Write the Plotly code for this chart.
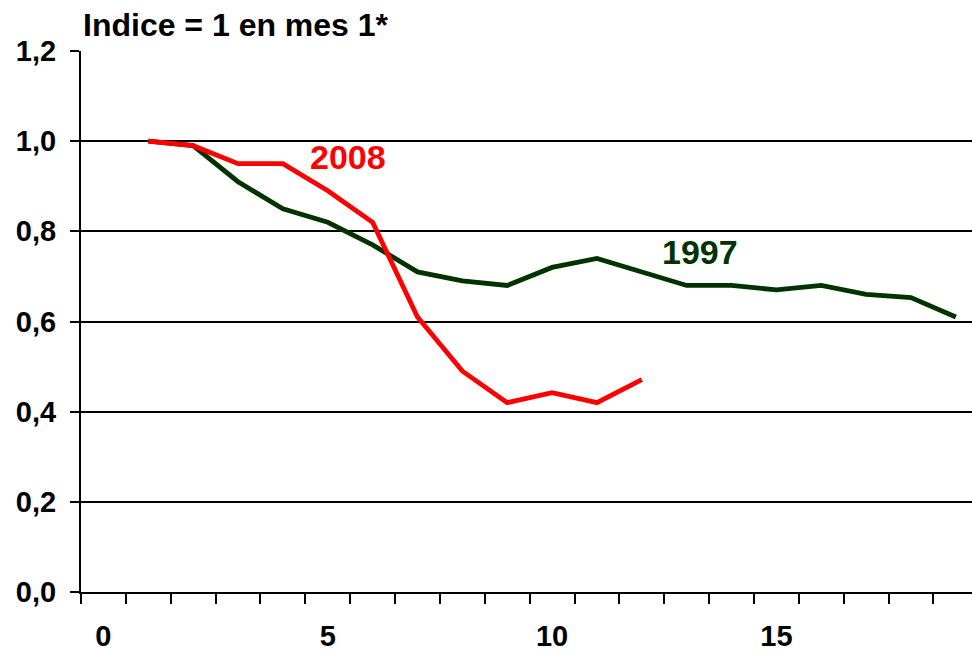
import plotly.graph_objects as go

months = list(range(1, 20))
serie_1997 = [1.00, 0.99, 0.91, 0.85, 0.82, 0.77, 0.71, 0.69, 0.68, 0.72,
              0.74, 0.71, 0.68, 0.68, 0.67, 0.68, 0.66, 0.653, 0.61]
months_2008 = list(range(1, 13))
serie_2008 = [1.00, 0.99, 0.95, 0.95, 0.89, 0.82, 0.61, 0.49, 0.42, 0.442,
              0.42, 0.471]
y_ticks = [0.0, 0.2, 0.4, 0.6, 0.8, 1.0, 1.2]
y_labels = ["0,0", "0,2", "0,4", "0,6", "0,8", "1,0", "1,2"]
x_ticks = [0, 5, 10, 15]
x_labels = ["0", "5", "10", "15"]

GREEN = "#003300"
RED = "#FF0000"
FONT = "Liberation Sans, Arial, sans-serif"

fig = go.Figure()
fig.add_trace(go.Scatter(x=months, y=serie_1997, mode="lines",
                         line=dict(color=GREEN, width=4.8), name="1997"))
fig.add_trace(go.Scatter(x=months_2008, y=serie_2008, mode="lines",
                         line=dict(color=RED, width=4.8), name="2008"))

fig.add_annotation(x=5.46, y=0.964, text="<b>2008</b>", showarrow=False,
                   font=dict(family=FONT, size=34, color=RED))
fig.add_annotation(x=13.29, y=0.754, text="<b>1997</b>", showarrow=False,
                   font=dict(family=FONT, size=34, color=GREEN))

fig.update_layout(
    width=972, height=655,
    margin=dict(l=81, r=0, t=51, b=63, autoexpand=False),
    paper_bgcolor="white", plot_bgcolor="white",
    showlegend=False,
    font=dict(family=FONT, color="black"),
    title=dict(text="<b>Indice = 1 en mes 1*</b>", x=83 / 972, xref="container",
               xanchor="left", y=1 - 25 / 655, yref="container",
               yanchor="middle", font=dict(family=FONT, size=32, color="black")),
)

fig.update_xaxes(
    range=[-0.5, 19.36], automargin=False,
    tickmode="array", tickvals=x_ticks,
    ticktext=["<b>" + t + "</b>" for t in x_labels],
    ticks="outside", ticklen=0, tickcolor="black",
    tickfont=dict(family=FONT, size=29, color="black"),
    ticklabelstandoff=17,
    showgrid=False, zeroline=False,
    showline=True, linecolor="black", linewidth=2,
    minor=dict(tickmode="linear", tick0=-0.5, dtick=1, ticks="outside",
               ticklen=10, tickcolor="black", tickwidth=2, showgrid=False),
)

fig.update_yaxes(
    range=[0, 1.2], automargin=False,
    tickmode="array", tickvals=y_ticks,
    ticktext=["<b>" + t + "</b>" for t in y_labels],
    ticks="outside", ticklen=9, tickcolor="black", tickwidth=2,
    tickfont=dict(family=FONT, size=29, color="black"),
    ticklabelstandoff=8,
    showgrid=True, gridcolor="black", gridwidth=1.5,
    zeroline=False,
    showline=True, linecolor="black", linewidth=2,
)

fig.write_html(
    "out.html",
    config={"displayModeBar": False},
    post_script="document.body.style.margin='0';document.body.style.overflow='hidden';",
)
